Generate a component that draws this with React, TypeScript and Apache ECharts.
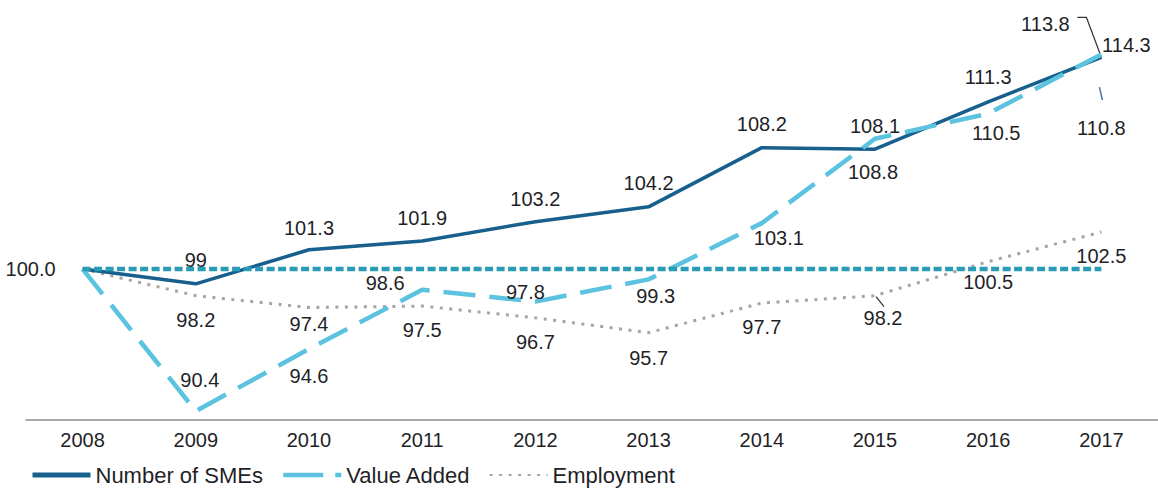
import React, { useEffect, useRef } from 'react';
import * as echarts from 'echarts';

const years = ['2008', '2009', '2010', '2011', '2012', '2013', '2014', '2015', '2016', '2017'];
const smes = [100, 99, 101.3, 101.9, 103.2, 104.2, 108.2, 108.1, 111.3, 114.3];
const valueAdded = [100, 90.4, 94.6, 98.6, 97.8, 99.3, 103.1, 108.8, 110.5, 114.5];
const employment = [100, 98.2, 97.4, 97.5, 96.7, 95.7, 97.7, 98.2, 100.5, 102.5];
const baseline = [100, 100, 100, 100, 100, 100, 100, 100, 100, 100];

const smeLabels = ['100.0', '99', '101.3', '101.9', '103.2', '104.2', '108.2', '108.1', '111.3', '114.3'];
const valueAddedLabels = ['', '90.4', '94.6', '98.6', '97.8', '99.3', '103.1', '108.8', '110.5', '113.8'];
const employmentLabels = ['', '98.2', '97.4', '97.5', '96.7', '95.7', '97.7', '98.2', '100.5', '102.5'];
const extraLabelValue = 110.8;
const extraLabelText = '110.8';

const FONT = "'Liberation Sans', Arial, sans-serif";
const TEXT = '#1f1f28';

const smeOffsets = [[-52, 0], [0, -24], [0, -22], [0, -23], [0, -23], [0, -24], [0, -24], [0, -23], [0, -25], [25, -12]];
const vaOffsets = [[0, 0], [4, -31], [0, 27], [-37, -7], [-10, -10], [7, 17], [17, 15], [-2, 33], [8, 19], [-56, -30]];
const empOffsets = [[0, 0], [0, 24], [0, 16], [0, 24], [0, 24], [0, 25], [0, 24], [8, 22], [0, 20], [0, 24]];

function items(values: number[], labels: string[], offsets: number[][]) {
  return values.map((v, i) => ({
    value: v,
    label: {
      show: labels[i] !== '',
      formatter: labels[i],
      position: 'inside',
      offset: offsets[i],
      color: TEXT,
      fontSize: 20,
      fontFamily: FONT,
    },
  }));
}

export default function App() {
  const ref = useRef<HTMLDivElement>(null);
  useEffect(() => {
    document.body.style.margin = '0';
    const chart = echarts.init(ref.current!, undefined, { renderer: 'svg' });
    const option: any = {
      animation: false,
      grid: { left: 26, top: 47, width: 1134, height: 373 },
      legend: {
        left: 25,
        top: 459,
        itemWidth: 58,
        itemHeight: 5,
        itemGap: 18,
        textStyle: { fontSize: 22, color: TEXT, fontFamily: FONT },
        data: [
          { name: 'Number of SMEs', itemStyle: { opacity: 0 }, lineStyle: { width: 5, color: '#175f8c' } },
          { name: 'Value Added', lineStyle: { width: 4.5, color: '#5bc3e0', type: [40, 12] } },
          { name: 'Employment', itemStyle: { opacity: 0 } },
        ],
      },
      xAxis: {
        type: 'category',
        data: years,
        boundaryGap: true,
        axisLine: { lineStyle: { color: '#8c8c8c', width: 1.5 } },
        axisTick: { show: false },
        axisLabel: { fontSize: 20, color: TEXT, fontFamily: FONT, margin: 10 },
      },
      yAxis: {
        type: 'value',
        min: 89.8,
        max: 115,
        show: false,
        splitLine: { show: false },
      },
      series: [
        {
          name: 'Number of SMEs',
          type: 'line',
          data: items(smes, smeLabels, smeOffsets),
          symbol: 'circle',
          symbolSize: 0.1,
          itemStyle: { color: '#175f8c' },
          lineStyle: { color: '#175f8c', width: 3.5 },
          z: 3,
        },
        {
          name: 'Value Added',
          type: 'line',
          data: items(valueAdded, valueAddedLabels, vaOffsets),
          symbol: 'circle',
          symbolSize: 0.1,
          itemStyle: { color: '#5bc3e0' },
          lineStyle: { color: '#5bc3e0', width: 4.5, type: [32, 14] },
          z: 4,
          markPoint: {
            symbol: 'circle',
            symbolSize: 0.1,
            itemStyle: { color: 'transparent' },
            label: {
              show: true,
              formatter: extraLabelText,
              position: 'inside',
              offset: [0, 19],
              color: TEXT,
              fontSize: 20,
              fontFamily: FONT,
            },
            data: [{ coord: [years[9], extraLabelValue] }],
          },
        },
        {
          name: 'Employment',
          type: 'line',
          data: items(employment, employmentLabels, empOffsets),
          symbol: 'circle',
          symbolSize: 0.1,
          itemStyle: { color: '#a5a5a5' },
          lineStyle: { color: '#a5a5a5', width: 3, type: [3, 6.5] },
          z: 2,
        },
        {
          name: 'Baseline',
          type: 'line',
          data: baseline,
          symbol: 'none',
          lineStyle: { color: '#2a9bb7', width: 4.5, type: [8, 3.5] },
          z: 5,
        },
      ],
    };
    chart.setOption(option);

    const pSme = chart.convertToPixel({ seriesIndex: 0 }, [9, smes[9]]) as number[];
    const pEmp = chart.convertToPixel({ seriesIndex: 2 }, [7, employment[7]]) as number[];
    const pExtra = chart.convertToPixel({ seriesIndex: 1 }, [9, extraLabelValue]) as number[];
    chart.setOption({
      graphic: [
        {
          type: 'polyline',
          shape: { points: [[pSme[0] - 24, pSme[1] - 40], [pSme[0] - 15, pSme[1] - 40], [pSme[0], pSme[1]]] },
          style: { stroke: '#333', lineWidth: 1.3, fill: 'none' },
        },
        {
          type: 'line',
          shape: { x1: pEmp[0] + 1, y1: pEmp[1] + 1, x2: pEmp[0] + 9, y2: pEmp[1] + 11 },
          style: { stroke: '#333', lineWidth: 1.3 },
        },
        {
          type: 'line',
          shape: { x1: pExtra[0] - 2, y1: pExtra[1] - 22, x2: pExtra[0] + 1, y2: pExtra[1] - 9 },
          style: { stroke: '#4a6fb0', lineWidth: 1.5 },
        },
      ],
    });
    return () => chart.dispose();
  }, []);
  return <div ref={ref} style={{ width: 1158, height: 488 }} />;
}
